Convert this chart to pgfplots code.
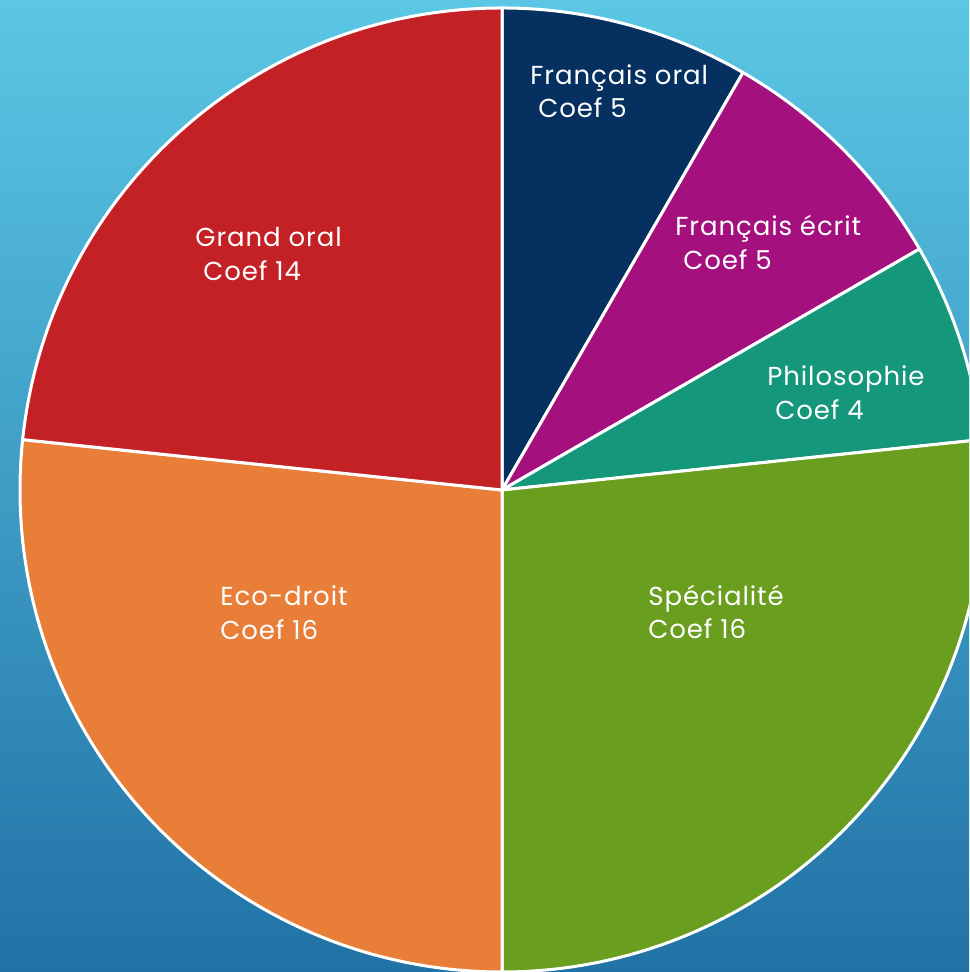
\documentclass[border=0pt]{standalone}
\usepackage{pgfplots}
\usepackage{pgfplotstable}
\pgfplotsset{compat=1.18}
\usepackage{fontspec}
\setmainfont{Poppins}[LetterSpace=3.5]

\definecolor{bgtop}{HTML}{5BC7E4}
\definecolor{bgbot}{HTML}{2172A6}
\definecolor{c0}{HTML}{06305F}
\definecolor{c1}{HTML}{A4117F}
\definecolor{c2}{HTML}{15977B}
\definecolor{c3}{HTML}{6A9E1F}
\definecolor{c4}{HTML}{E87E38}
\definecolor{c5}{HTML}{C32126}

% coefficients, clockwise from the top
\pgfplotstableread[col sep=comma]{
name,coef
Français oral,5
Français écrit,5
Philosophie,4
Spécialité,16
Eco-droit,16
Grand oral,14
}\piedata

\begin{document}
\begin{tikzpicture}[
    lbl/.style={font=\fontsize{13}{15}\selectfont, text=white, inner sep=0pt, anchor=base west},
  ]
\useasboundingbox (0,0) rectangle (484.5pt,486pt);
\clip (0,0) rectangle (484.5pt,486pt);
\begin{axis}[
    scale only axis,
    width=484.5pt, height=486pt,
    xmin=0, xmax=969, ymin=0, ymax=972,
    hide axis,
    clip=false,
  ]
  \shade[top color=bgtop, bottom color=bgbot] (axis cs:0,0) rectangle (axis cs:969,972);

  \pgfplotstablegetrowsof{\piedata}
  \pgfmathtruncatemacro\nrows{\pgfplotsretval-1}
  \def\total{0}
  \pgfplotsforeachungrouped \i in {0,...,\nrows}{%
    \pgfplotstablegetelem{\i}{coef}\of\piedata
    \pgfmathsetmacro\total{\total+\pgfplotsretval}%
  }
  \pgfmathsetmacro\step{360/\total}
  \def\cum{0}
  \pgfplotsforeachungrouped \i in {0,...,\nrows}{%
    \pgfplotstablegetelem{\i}{coef}\of\piedata
    \pgfmathsetmacro\sa{90-\step*\cum}%
    \pgfmathsetmacro\cum{\cum+\pgfplotsretval}%
    \pgfmathsetmacro\sb{90-\step*\cum}%
    \edef\temp{\noexpand\fill[fill=c\i, draw=white, line width=1.5pt, line join=round]
      (axis cs:502,482) -- ++(\sa:241pt) arc[start angle=\sa, end angle=\sb, radius=241pt] -- cycle;}%
    \temp
  }

  % labels (pixel x, 972 - baseline y)
  \node[lbl] at (axis cs:530,887) {Français oral};
  \node[lbl] at (axis cs:538,854) {Coef 5};
  \node[lbl] at (axis cs:675,736) {Français écrit};
  \node[lbl] at (axis cs:683,702) {Coef 5};
  \node[lbl] at (axis cs:767,586) {Philosophie};
  \node[lbl] at (axis cs:775,552) {Coef 4};
  \node[lbl] at (axis cs:648,366) {Spécialité};
  \node[lbl] at (axis cs:648,333) {Coef 16};
  \node[lbl] at (axis cs:220,366) {Eco-droit};
  \node[lbl] at (axis cs:220,332) {Coef 16};
  \node[lbl] at (axis cs:195,725) {Grand oral};
  \node[lbl] at (axis cs:203,691) {Coef 14};
\end{axis}
\end{tikzpicture}
\end{document}
